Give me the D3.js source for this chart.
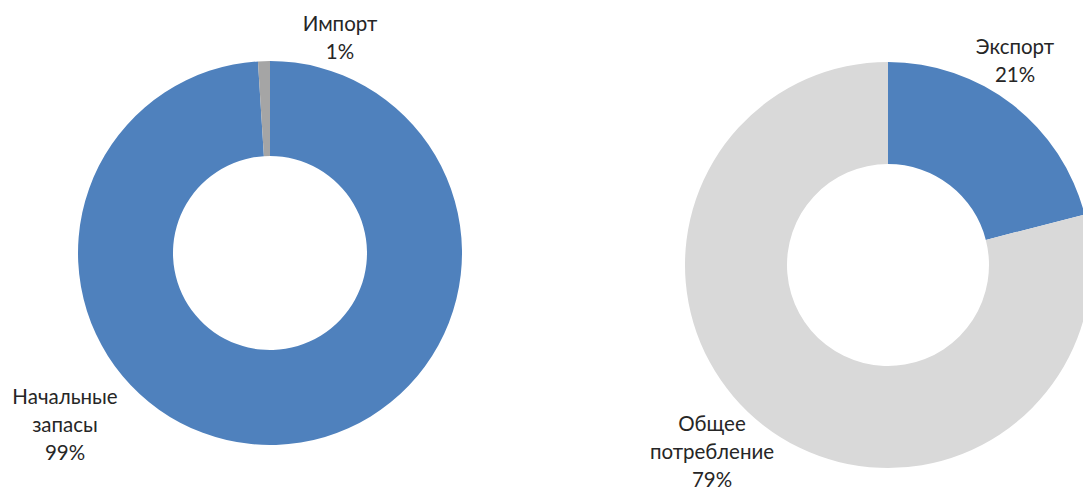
<!DOCTYPE html>
<html><head><meta charset="utf-8">
<script src="https://cdn.jsdelivr.net/npm/d3@7"></script>
<style>html,body{margin:0;padding:0;background:#fff;overflow:hidden}</style>
</head><body>
<svg id="c" width="1083" height="490"></svg>
<script>
const leftCategories = [["Начальные","запасы"], ["Импорт"]];
const leftValues = [99, 1];
const leftColors = ["#4F81BD", "#A5A5A5"];
const rightCategories = [["Экспорт"], ["Общее","потребление"]];
const rightValues = [21, 79];
const rightColors = ["#4F81BD", "#D9D9D9"];

const svg = d3.select("#c");
const font = "Lato, 'Open Sans', sans-serif";

function donut(cx, cy, rOut, rIn, cats, vals, colors, labelPos) {
  const pie = d3.pie().sort(null).startAngle(0).endAngle(2*Math.PI)(vals);
  const arc = d3.arc().innerRadius(rIn).outerRadius(rOut);
  const g = svg.append("g").attr("transform", `translate(${cx},${cy})`);
  g.selectAll("path").data(pie).join("path")
    .attr("d", arc).attr("fill", (d,i)=>colors[i]);
  pie.forEach((d,i)=>{
    const lines = cats[i].concat([vals[i] + "%"]);
    const [lx, ly] = labelPos[i];
    const t = svg.append("text").attr("x", lx).attr("y", ly)
      .attr("text-anchor","middle").attr("font-family", font)
      .attr("font-size", 20.5).attr("fill", "#262626");
    lines.forEach((s,k)=>{
      t.append("tspan").attr("x", lx).attr("dy", k===0?0:28).text(s);
    });
  });
}

donut(270, 253, 192, 97, leftCategories, leftValues, leftColors, [[65, 404], [340, 31]]);
donut(888, 265, 203, 101, rightCategories, rightValues, rightColors, [[1015, 54], [712, 431]]);
</script>
</body></html>
